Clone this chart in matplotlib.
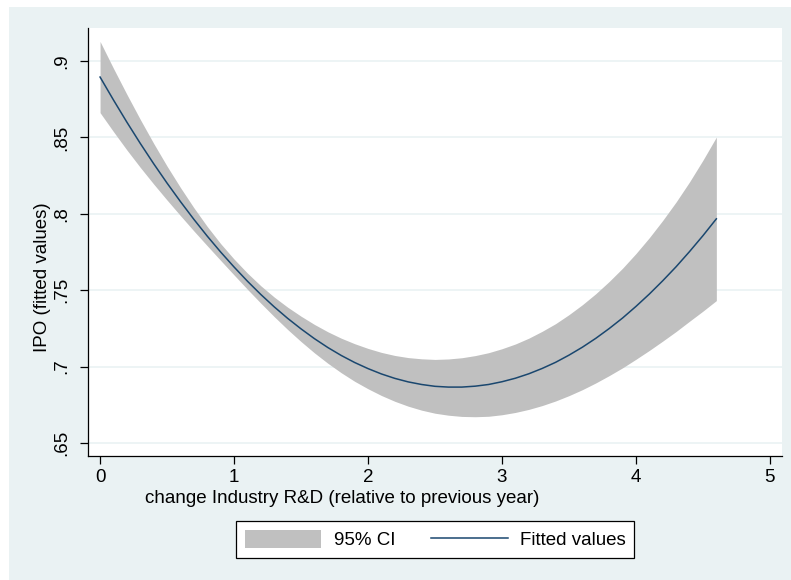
import matplotlib.pyplot as plt
from matplotlib.patches import Rectangle

plt.rcParams['font.family'] = ['Liberation Sans', 'DejaVu Sans']

# Values (every 0.1 along x)
x = [0.0, 0.1, 0.2, 0.3, 0.4, 0.5, 0.6, 0.7, 0.8, 0.9,
     1.0, 1.1, 1.2, 1.3, 1.4, 1.5, 1.6, 1.7, 1.8, 1.9,
     2.0, 2.1, 2.2, 2.3, 2.4, 2.5, 2.6, 2.7, 2.8, 2.9,
     3.0, 3.1, 3.2, 3.3, 3.4, 3.5, 3.6, 3.7, 3.8, 3.9,
     4.0, 4.1, 4.2, 4.3, 4.4, 4.5, 4.6]
fitted = [0.8895, 0.8745, 0.8600, 0.8461, 0.8328, 0.8201, 0.8080, 0.7964, 0.7854, 0.7750,
          0.7652, 0.7559, 0.7472, 0.7391, 0.7316, 0.7247, 0.7183, 0.7125, 0.7073, 0.7027,
          0.6987, 0.6952, 0.6923, 0.6900, 0.6883, 0.6871, 0.6866, 0.6866, 0.6872, 0.6883,
          0.6901, 0.6924, 0.6953, 0.6988, 0.7028, 0.7075, 0.7127, 0.7185, 0.7249, 0.7318,
          0.7394, 0.7475, 0.7562, 0.7654, 0.7753, 0.7857, 0.7967]
ci_upper = [0.9128, 0.8952, 0.8782, 0.8618, 0.8461, 0.8312, 0.8172, 0.8040, 0.7917, 0.7805,
            0.7704, 0.7612, 0.7529, 0.7455, 0.7389, 0.7330, 0.7276, 0.7228, 0.7186, 0.7150,
            0.7119, 0.7093, 0.7073, 0.7059, 0.7051, 0.7047, 0.7050, 0.7058, 0.7072, 0.7091,
            0.7117, 0.7148, 0.7186, 0.7231, 0.7281, 0.7340, 0.7405, 0.7477, 0.7557, 0.7644,
            0.7740, 0.7844, 0.7957, 0.8078, 0.8209, 0.8351, 0.8502]
ci_lower = [0.8662, 0.8538, 0.8418, 0.8304, 0.8195, 0.8090, 0.7988, 0.7888, 0.7791, 0.7695,
            0.7600, 0.7506, 0.7415, 0.7327, 0.7243, 0.7164, 0.7090, 0.7022, 0.6960, 0.6904,
            0.6855, 0.6811, 0.6773, 0.6741, 0.6715, 0.6695, 0.6682, 0.6674, 0.6672, 0.6675,
            0.6685, 0.6700, 0.6720, 0.6745, 0.6775, 0.6810, 0.6849, 0.6893, 0.6941, 0.6992,
            0.7048, 0.7106, 0.7167, 0.7230, 0.7297, 0.7363, 0.7432]

xticks = [0, 1, 2, 3, 4, 5]
yticks = [0.65, 0.7, 0.75, 0.8, 0.85, 0.9]
ytick_labels = ['.65', '.7', '.75', '.8', '.85', '.9']

bg = '#EAF2F3'
W, H = 791, 580
fs = 13.5

fig = plt.figure(figsize=(W / 100, H / 100), dpi=100, facecolor='white')
# graph region (Stata style), leaves a thin white margin top/left
fig.patches.append(Rectangle((9 / W, 0), 1 - 9 / W, 1 - 7 / H, transform=fig.transFigure,
                             facecolor=bg, edgecolor='none', zorder=-10))

ax = fig.add_axes([88 / W, 1 - 456 / H, (782 - 88) / W, (456 - 28) / H])
ax.set_facecolor('white')

ax.fill_between(x, ci_lower, ci_upper, color='#C0C0C0', linewidth=0, label='95% CI')
ax.plot(x, fitted, color='#1A476F', linewidth=1.1, label='Fitted values')

ax.set_xlim(-0.09, 5.09)
ax.set_ylim(0.6415, 0.9216)
ax.set_xticks(xticks)
ax.set_yticks(yticks)
ax.set_yticklabels(ytick_labels, rotation=90, va='center')
ax.grid(axis='y', color=bg, linewidth=1.2)
ax.set_axisbelow(True)

for s in ['top', 'right']:
    ax.spines[s].set_visible(False)
for s in ['left', 'bottom']:
    ax.spines[s].set_linewidth(0.9)
ax.tick_params(axis='both', length=5.5, width=0.9, labelsize=fs)
ax.tick_params(axis='x', pad=4)
ax.tick_params(axis='y', pad=7)

ax.set_xlabel('change Industry R&D (relative to previous year)', fontsize=fs)
ax.xaxis.set_label_coords((342 - 88) / (782 - 88), (456 - 490) / (456 - 28))
ax.set_ylabel('IPO (fitted values)', fontsize=fs)
ax.yaxis.set_label_coords((51 - 88) / (782 - 88), (456 - 277) / (456 - 28))

leg = fig.legend(loc='center', bbox_to_anchor=(435 / W, 1 - 539.5 / H), ncol=2,
                 fontsize=fs, frameon=True, fancybox=False, framealpha=1,
                 edgecolor='black', handlelength=4.1, handleheight=1.15,
                 handletextpad=0.65, columnspacing=1.9, borderpad=0.45)
leg.get_frame().set_linewidth(0.9)

fig.savefig('out.png', dpi=100, facecolor=fig.get_facecolor())
